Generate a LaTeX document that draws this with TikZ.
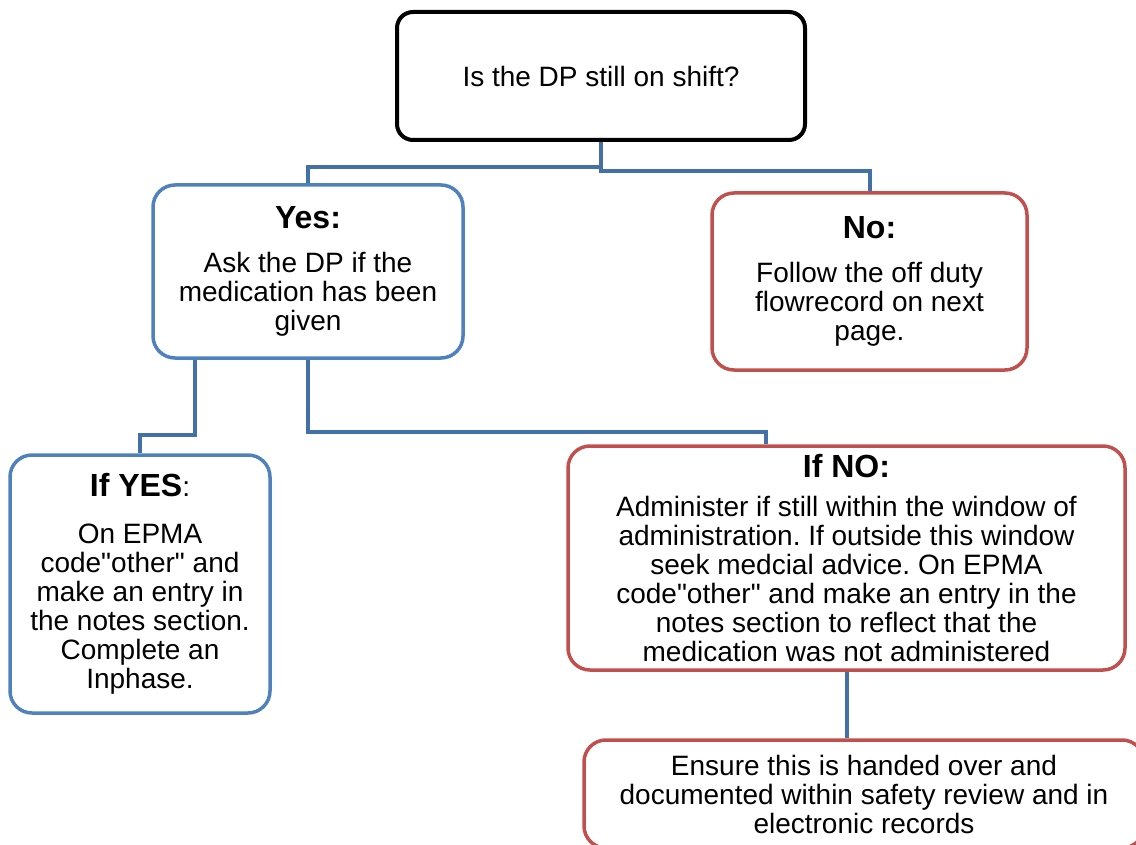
\documentclass[tikz,border=0pt]{standalone}
\usepackage{fontspec}
\setmainfont{Liberation Sans}
\usetikzlibrary{positioning}
\definecolor{chartblue}{HTML}{4F81BD}
\definecolor{chartred}{HTML}{C0504D}
\definecolor{linkblue}{HTML}{4470A8}
\tikzset{
    question/.style={rectangle, rounded corners=16pt, draw=black, line width=4pt,
        align=center, inner sep=0pt, font=\fontsize{28}{29}\selectfont},
    yesbox/.style={question, rounded corners=22pt, draw=chartblue, line width=3.5pt},
    nobox/.style={yesbox, draw=chartred},
    link/.style={draw=linkblue, line width=4pt}
}
\newcommand{\boxtitle}[1]{{\fontsize{32}{35}\selectfont\bfseries #1}}
\frenchspacing

\begin{document}
\begin{tikzpicture}[x=1pt,y=-1pt]
        \clip (0,0) rectangle (1136,845);
        \node[question, minimum width=408pt, minimum height=128pt] (shift) at (601,76) {Is the DP still on shift?};
        \node[yesbox, minimum width=310pt, minimum height=173pt] (yes) at (308,271.5)
            {\boxtitle{Yes:}\\[15pt] Ask the DP if the\\ medication has been\\ given};
        \node[nobox, minimum width=315pt, minimum height=177pt] (no) at (869.5,281.5)
            {\boxtitle{No:}\\[15pt] Follow the off duty\\ flowrecord on next\\ page.};
        \node[yesbox, minimum width=260pt, minimum height=258pt] (ifyes) at (140,584)
            {\boxtitle{If YES}:\\[18pt] On EPMA\\ code\textquotedbl other\textquotedbl{} and\\ make an entry in\\ the notes section.\\ Complete an\\ Inphase.};
        \node[nobox, minimum width=557pt, minimum height=224pt] (ifno) at (846.5,558)
            {\boxtitle{If NO:}\\[10pt] Administer if still within the window of\\ administration. If outside this window\\ seek medcial advice. On EPMA\\ code\textquotedbl other\textquotedbl{} and make an entry in the\\ notes section to reflect that the\\ medication was not administered};
        \node[nobox, minimum width=560pt, minimum height=108pt] (ensure) at (864,794)
            {Ensure this is handed over and\\ documented within safety review and in\\ electronic records};
        \draw[link] (shift.south) -- ++(0,25) -| (yes.north);
        \draw[link] (shift.south) -- ++(0,29) -| (no.north);
        \draw[link] ([xshift=-113pt]yes.south) -- ++(0,75) -| (ifyes.north);
        \draw[link] (yes.south) -- ++(0,72) -| ([xshift=-81pt]ifno.north);
        \draw[link] (ifno.south) -- (ifno.south |- ensure.north);
    \end{tikzpicture}
\end{document}
